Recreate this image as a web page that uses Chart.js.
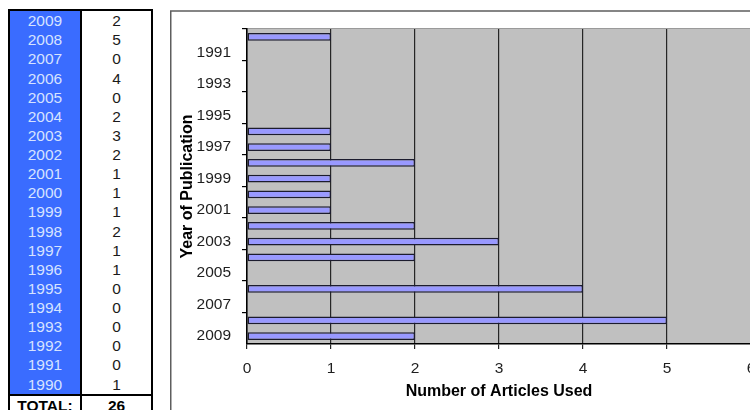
<!DOCTYPE html>
<html>
<head>
<meta charset="utf-8">
<title>Articles by Year of Publication</title>
<script src="https://cdn.jsdelivr.net/npm/chart.js@4.4.0/dist/chart.umd.min.js"></script>
<style>
  html, body { margin: 0; padding: 0; background: #fff; width: 750px; height: 410px; overflow: hidden; }
  #wrap { position: relative; width: 750px; height: 410px; overflow: hidden; }
  #chart { position: absolute; left: 0; top: 0; width: 800px; height: 410px; }
  #tally {
    position: absolute; left: 8px; top: 9.2px; width: 141px;
    border: 2px solid #000; background: #fff;
    font: 15.5px 'Liberation Sans', Arial, sans-serif;
  }
  .row { display: flex; height: 19.14px; line-height: 19.14px; }
  .yr { width: 70px; background: #3a6cff; color: #d6e3ff; text-align: center; border-right: 2px solid #000; }
  .ct { flex: 1; text-align: center; color: #1a1a1a; }
  .total { border-top: 2px solid #000; height: 20px; line-height: 20px; font-weight: bold; }
  .total .yr { background: #fff; color: #000; }
  .total .ct { color: #000; }
</style>
</head>
<body>
<div id="wrap">
  <canvas id="chart" width="800" height="410"></canvas>
  <div id="tally"></div>
</div>
<script>
// Publication years and the number of articles used from each year
const years = [1990, 1991, 1992, 1993, 1994, 1995, 1996, 1997, 1998, 1999,
               2000, 2001, 2002, 2003, 2004, 2005, 2006, 2007, 2008, 2009];
const articleCounts = [1, 0, 0, 0, 0, 0, 1, 1, 2, 1,
                       1, 1, 2, 3, 2, 0, 4, 0, 5, 2];
// Value axis tick labels
const countTicks = [0, 1, 2, 3, 4, 5, 6];

const yearLabels = years.map(String);
const totalLabel = 'TOTAL:';

// Tally table: newest year first, with the total at the bottom
(function buildTally() {
  const box = document.getElementById('tally');
  const addRow = (cls, a, b) => {
    const row = document.createElement('div');
    row.className = cls;
    row.innerHTML = '<div class="yr">' + a + '</div><div class="ct">' + b + '</div>';
    box.appendChild(row);
  };
  for (let i = years.length - 1; i >= 0; i--) addRow('row', years[i], articleCounts[i]);
  const total = articleCounts.reduce((a, b) => a + b, 0);
  addRow('row total', totalLabel, total);
})();

const tickFont = { family: "'Liberation Sans', Arial, sans-serif", size: 15.5 };
const titleFont = { family: "'Liberation Sans', Arial, sans-serif", size: 16, weight: 'bold' };

// Chart frame and grey plot background
const panelPlugin = {
  id: 'panel',
  beforeDraw(chart) {
    const { ctx, chartArea: a } = chart;
    ctx.save();
    ctx.strokeStyle = '#5e5e5e';
    ctx.lineWidth = 1.5;
    ctx.strokeRect(170.75, 11, 700, 500);
    ctx.fillStyle = '#c0c0c0';
    ctx.fillRect(a.left, a.top, a.right - a.left, a.bottom - a.top);
    ctx.strokeStyle = '#9a9a9a';
    ctx.lineWidth = 1;
    ctx.beginPath();
    ctx.moveTo(a.left, a.top - 0.5);
    ctx.lineTo(a.right, a.top - 0.5);
    ctx.stroke();
    ctx.restore();
  }
};

new Chart(document.getElementById('chart').getContext('2d'), {
  type: 'bar',
  data: {
    labels: yearLabels,
    datasets: [{
      data: articleCounts,
      backgroundColor: '#9999ff',
      borderColor: '#1c1c2e',
      borderWidth: 1.5,
      borderSkipped: false,
      barPercentage: 0.49,
      categoryPercentage: 1
    }]
  },
  options: {
    indexAxis: 'y',
    responsive: false,
    animation: false,
    devicePixelRatio: 1,
    layout: { padding: { left: 170, top: 29, right: 49, bottom: 0 } },
    plugins: { legend: { display: false }, tooltip: { enabled: false } },
    scales: {
      x: {
        type: 'linear',
        min: countTicks[0],
        max: countTicks[countTicks.length - 1],
        ticks: { stepSize: 1, font: tickFont, color: '#1e1e1e', padding: 10.5, maxRotation: 0 },
        grid: { color: '#262626', lineWidth: 1.2, tickLength: 5 },
        border: { color: '#000', width: 1.5 },
        title: {
          display: true, text: 'Number of Articles Used', font: titleFont, color: '#000',
          padding: { top: 0, bottom: 8.4 }
        },
        afterFit(scale) { scale.height = 66; }
      },
      y: {
        type: 'category',
        offset: true,
        ticks: {
          autoSkip: false, font: tickFont, color: '#1e1e1e', padding: 11,
          callback: (v, i) => (i % 2 === 1 ? yearLabels[i] : '')
        },
        grid: {
          offset: true, drawOnChartArea: false, tickLength: 5, lineWidth: 1.2,
          color: (c) => (c.index % 2 === 0 ? '#000' : 'rgba(0,0,0,0)')
        },
        border: { color: '#000', width: 1.5 },
        title: {
          display: true, text: 'Year of Publication', font: titleFont, color: '#000',
          padding: { top: 8.4, bottom: 0 }
        },
        afterFit(scale) { scale.width = 77; }
      }
    }
  },
  plugins: [panelPlugin]
});
</script>
</body>
</html>
